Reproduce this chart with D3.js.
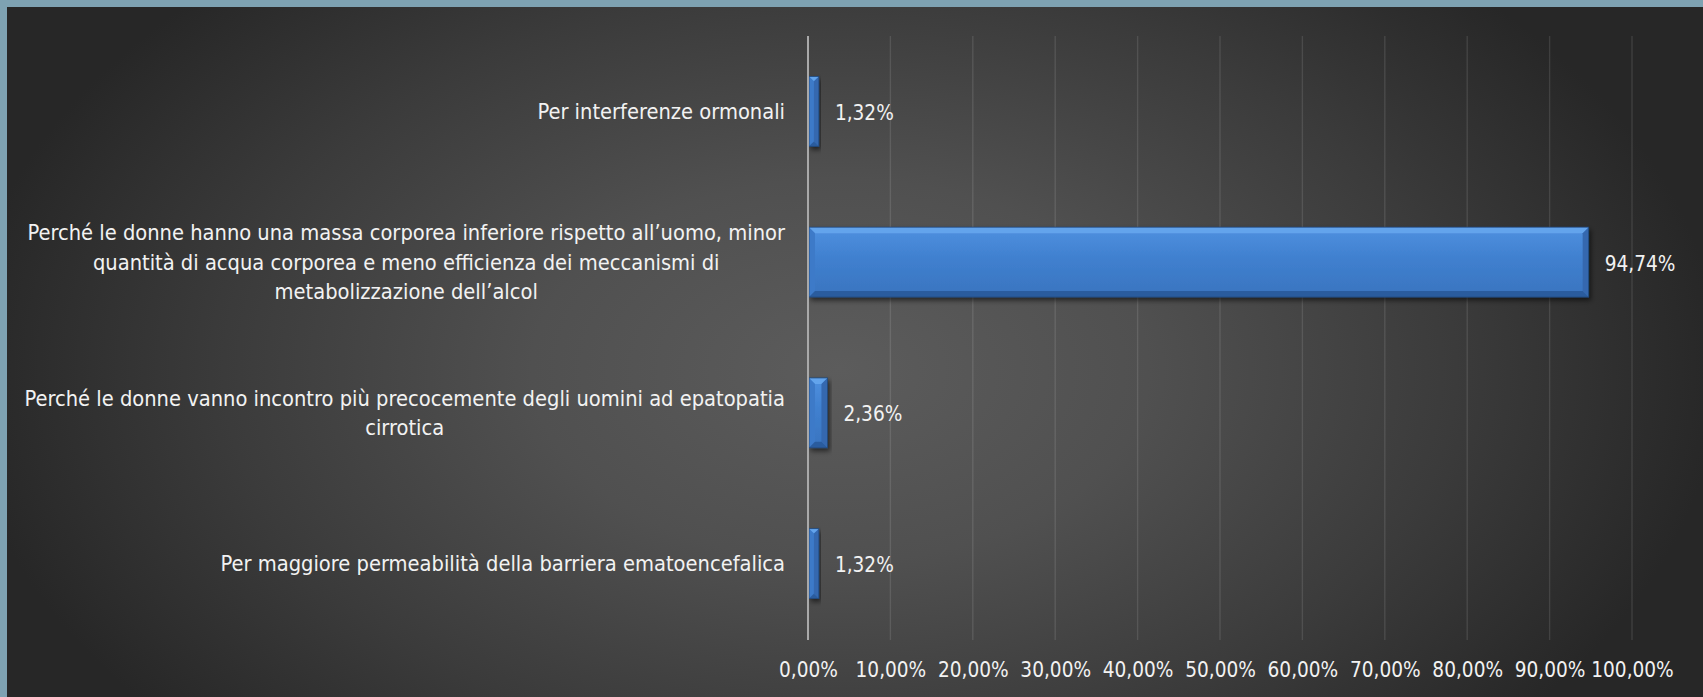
<!DOCTYPE html>
<html><head><meta charset="utf-8">
<script src="https://cdn.jsdelivr.net/npm/d3@7"></script>
<style>body{margin:0;background:#7ea2b2;overflow:hidden}svg{display:block}</style>
</head><body><svg id="c" width="1703" height="697"></svg>
<script>
const categories = [
  "Per interferenze ormonali",
  "Perché le donne hanno una massa corporea inferiore rispetto all’uomo, minor\nquantità di acqua corporea e meno efficienza dei meccanismi di\nmetabolizzazione dell’alcol",
  "Perché le donne vanno incontro più precocemente degli uomini ad epatopatia\ncirrotica",
  "Per maggiore permeabilità della barriera ematoencefalica"
];
const values = [1.32, 94.74, 2.36, 1.32];
const valueLabels = ["1,32%", "94,74%", "2,36%", "1,32%"];
const tickValues = [0, 10, 20, 30, 40, 50, 60, 70, 80, 90, 100];
const tickLabels = ["0,00%", "10,00%", "20,00%", "30,00%", "40,00%", "50,00%", "60,00%", "70,00%", "80,00%", "90,00%", "100,00%"];

const W = 1703, H = 697;
const svg = d3.select("#c");
const FONT = "'Liberation Sans Narrow','DejaVu Sans Condensed','Liberation Sans',sans-serif";

function measure(txt, fs) {
  const t = svg.append("text").attr("font-family", FONT).attr("font-size", fs).text(txt);
  const w = t.node().getComputedTextLength();
  t.remove();
  return w;
}
const catFs = 24 * 758 / measure("Perché le donne hanno una massa corporea inferiore rispetto all’uomo, minor", 24);
const numFs = 24 * 82.5 / measure("100,00%", 24);

const defs = svg.append("defs");
const bg = defs.append("radialGradient").attr("id", "bg")
  .attr("gradientUnits", "userSpaceOnUse")
  .attr("cx", 840).attr("cy", 370).attr("r", 880)
  .attr("gradientTransform", "translate(840,370) scale(1,0.62) translate(-840,-370)");
[[0, "#5c5c5c"], [0.35, "#505050"], [0.7, "#3b3b3b"], [1, "#272727"]].forEach(([o, c]) =>
  bg.append("stop").attr("offset", o).attr("stop-color", c));

const face = defs.append("linearGradient").attr("id", "face").attr("x1", 0).attr("y1", 0).attr("x2", 0).attr("y2", 1);
[[0, "#4f90df"], [0.45, "#4080cf"], [1, "#3974bf"]].forEach(([o, c]) =>
  face.append("stop").attr("offset", o).attr("stop-color", c));

const sh = defs.append("filter").attr("id", "sh").attr("x", "-10%").attr("y", "-20%").attr("width", "130%").attr("height", "160%");
sh.append("feDropShadow").attr("dx", 2).attr("dy", 3).attr("stdDeviation", 2.5).attr("flood-color", "#000").attr("flood-opacity", 0.55);

svg.append("rect").attr("x", 7).attr("y", 7).attr("width", W - 7).attr("height", H - 7).attr("fill", "url(#bg)");

const x = d3.scaleLinear().domain([0, 100]).range([808, 1632]);
const y = d3.scaleBand().domain(categories).range([36, 639]).paddingInner(0.536).paddingOuter(0.268);

// gridlines
svg.append("g").selectAll("line").data(tickValues.slice(1)).join("line")
  .attr("x1", d => x(d)).attr("x2", d => x(d)).attr("y1", 36).attr("y2", 640)
  .attr("stroke", "rgba(255,255,255,0.11)").attr("stroke-width", 1.4);

// tick labels via axis
const ax = svg.append("g").attr("transform", "translate(0,662)")
  .call(d3.axisBottom(x).tickValues(tickValues).tickFormat((d, i) => tickLabels[i]).tickSize(0).tickPadding(0));
ax.select(".domain").remove();
ax.selectAll("text").attr("font-family", FONT).attr("font-size", numFs).attr("fill", "#f2f2f2")
  .attr("dy", "0.72em");

// bars
const bars = svg.append("g").selectAll("g").data(categories).join("g").attr("filter", "url(#sh)");
bars.each(function (c, i) {
  const g = d3.select(this);
  const x0 = x(0) + 1, x1 = x(values[i]), y0 = y(c), y1 = y(c) + y.bandwidth();
  const b = Math.min(6, (x1 - x0) / 2);
  g.append("rect").attr("x", x0).attr("y", y0).attr("width", x1 - x0).attr("height", y1 - y0).attr("fill", "url(#face)");
  const poly = (pts, fill) => g.append("polygon").attr("points", pts.map(p => p.join(",")).join(" ")).attr("fill", fill);
  poly([[x0, y0], [x1, y0], [x1 - b, y0 + b], [x0 + b, y0 + b]], "#64a4ec");
  poly([[x0, y0], [x0 + b, y0 + b], [x0 + b, y1 - b], [x0, y1]], "#3c7ac8");
  poly([[x1, y0], [x1 - b, y0 + b], [x1 - b, y1 - b], [x1, y1]], "#3468af");
  poly([[x0, y1], [x1, y1], [x1 - b, y1 - b], [x0 + b, y1 - b]], "#2c5c9e");
  g.append("rect").attr("x", x0).attr("y", y0).attr("width", x1 - x0).attr("height", y1 - y0)
    .attr("fill", "none").attr("stroke", "#1f4677").attr("stroke-width", 0.8);
});

// axis line
svg.append("line").attr("x1", x(0)).attr("x2", x(0)).attr("y1", 36).attr("y2", 640)
  .attr("stroke", "#a9a9a9").attr("stroke-width", 2);

// value labels
svg.append("g").selectAll("text").data(categories).join("text")
  .attr("x", (c, i) => x(values[i]) + 16).attr("y", c => y(c) + y.bandwidth() / 2 + 1)
  .attr("dy", "0.36em")
  .attr("font-family", FONT).attr("font-size", numFs).attr("fill", "#f2f2f2")
  .text((c, i) => valueLabels[i]);

// category labels: block right-aligned, lines centered in block
const lineH = 29.5;
const catG = svg.append("g");
categories.forEach(c => {
  const lines = c.split("\n");
  const widths = lines.map(l => measure(l, catFs));
  const maxW = d3.max(widths);
  const right = 785;
  const cx = right - maxW / 2;
  const cy = y(c) + y.bandwidth() / 2;
  lines.forEach((l, k) => {
    catG.append("text").attr("x", cx).attr("y", cy + (k - (lines.length - 1) / 2) * lineH)
      .attr("dy", "0.36em").attr("text-anchor", "middle")
      .attr("font-family", FONT).attr("font-size", catFs).attr("fill", "#f2f2f2").text(l);
  });
});
</script></body></html>
